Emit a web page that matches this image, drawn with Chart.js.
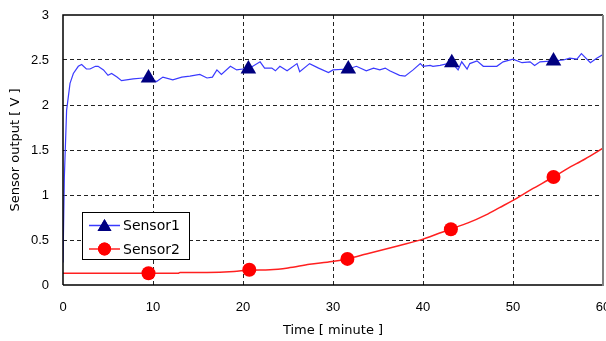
<!DOCTYPE html>
<html>
<head>
<meta charset="utf-8">
<script src="https://cdn.jsdelivr.net/npm/chart.js@4/dist/chart.umd.min.js"></script>
<style>
  html, body { margin: 0; padding: 0; background: #fff; }
  #wrap { width: 606px; height: 341px; }
</style>
</head>
<body>
<div id="wrap"><canvas id="c" width="606" height="341"></canvas></div>
<script>
// ---- data ----
const seriesNames = ["Sensor1", "Sensor2"];
const xTickLabels = [0, 10, 20, 30, 40, 50, 60];
const yTickLabels = [0, 0.5, 1, 1.5, 2, 2.5, 3];

const sensor1Time = [0, 0.15, 0.4, 0.78, 1.15, 1.7, 2.07, 2.6, 3.0, 3.6, 3.9, 4.5, 5.0, 5.4, 6.0, 6.5, 7.8, 8.9, 9.5, 10.4, 11.1, 12.2, 13.2, 14.1, 15.2, 16.0, 16.6, 17.1, 17.6, 18.6, 19.3, 20.0, 20.6, 21.9, 22.4, 23.2, 23.6, 24.1, 24.9, 26.0, 26.3, 27.4, 28.4, 29.5, 30.0, 31.7, 32.6, 33.7, 34.5, 35.2, 35.8, 36.3, 37.4, 38.0, 38.9, 39.7, 40.0, 40.8, 41.1, 41.9, 43.2, 43.9, 44.3, 44.9, 45.2, 46.0, 46.7, 48.2, 48.9, 50.0, 51.0, 51.9, 52.4, 53.0, 54.5, 55.6, 56.3, 57.1, 57.6, 58.6, 59.3, 60.0];
const sensor1Value = [0.25, 1.2, 1.94, 2.24, 2.35, 2.43, 2.45, 2.40, 2.40, 2.43, 2.43, 2.39, 2.33, 2.35, 2.31, 2.27, 2.29, 2.30, 2.30, 2.26, 2.31, 2.28, 2.31, 2.32, 2.34, 2.30, 2.31, 2.39, 2.34, 2.43, 2.39, 2.40, 2.40, 2.48, 2.41, 2.41, 2.38, 2.43, 2.38, 2.46, 2.37, 2.46, 2.41, 2.36, 2.39, 2.40, 2.43, 2.38, 2.41, 2.39, 2.41, 2.38, 2.33, 2.32, 2.39, 2.46, 2.43, 2.44, 2.43, 2.44, 2.47, 2.39, 2.48, 2.40, 2.46, 2.49, 2.43, 2.43, 2.48, 2.51, 2.47, 2.48, 2.44, 2.48, 2.49, 2.50, 2.52, 2.51, 2.57, 2.47, 2.52, 2.56];

const sensor2Time = [0, 5, 10, 12.8, 13, 16, 19, 20.7, 23, 25, 27.4, 29.9, 31.5, 33.7, 37.4, 40, 43, 45, 47, 48.5, 50, 52, 54.5, 56, 58, 60];
const sensor2Value = [0.13, 0.13, 0.13, 0.13, 0.14, 0.14, 0.15, 0.165, 0.17, 0.19, 0.23, 0.26, 0.29, 0.345, 0.44, 0.51, 0.62, 0.69, 0.78, 0.86, 0.94, 1.06, 1.20, 1.29, 1.40, 1.52];

const sensor1MarkerTime = [9.5, 20.6, 31.7, 43.2, 54.5];
const sensor1MarkerValue = [2.30, 2.40, 2.40, 2.47, 2.49];
const sensor2MarkerTime = [9.5, 20.7, 31.6, 43.1, 54.5];
const sensor2MarkerValue = [0.13, 0.17, 0.29, 0.62, 1.20];

// ---- build library structures ----
const pts = (xs, ys) => xs.map((x, i) => ({ x: x, y: ys[i] }));

const C1_LINE = "#3a3aff", C1_MARK = "#000080";
const C2_LINE = "#ff2020", C2_MARK = "#ff0000";
const FONT = "'DejaVu Sans', sans-serif";
const TICKFONT = "'Liberation Sans', Arial, sans-serif";

const frameAndLegend = {
  id: "frameAndLegend",
  afterDatasetsDraw(chart) {
    const { ctx, chartArea: a } = chart;
    ctx.save();
    ctx.strokeStyle = "#000";
    ctx.lineWidth = 1.5;
    ctx.beginPath();
    ctx.moveTo(a.left, a.bottom); ctx.lineTo(a.left, a.top); ctx.lineTo(a.right, a.top);
    ctx.moveTo(a.left, a.bottom); ctx.lineTo(a.right, a.bottom);
    ctx.stroke();
    ctx.strokeStyle = "#808080";
    ctx.lineWidth = 2;
    ctx.beginPath();
    ctx.moveTo(a.right, a.top); ctx.lineTo(a.right, a.bottom + 1);
    ctx.stroke();

    const bx = 82.5, by = 212.5, bw = 107, bh = 47;
    ctx.fillStyle = "#fff";
    ctx.fillRect(bx, by, bw, bh);
    ctx.strokeStyle = "#000";
    ctx.lineWidth = 1;
    ctx.strokeRect(bx, by, bw, bh);
    const rows = [
      { name: seriesNames[0], line: C1_LINE, mark: C1_MARK, style: "triangle", r: 8, y: 225.5 },
      { name: seriesNames[1], line: C2_LINE, mark: C2_MARK, style: "circle", r: 6.5, y: 249 }
    ];
    rows.forEach(row => {
      ctx.strokeStyle = row.line;
      ctx.lineWidth = 1.5;
      ctx.beginPath(); ctx.moveTo(89, row.y); ctx.lineTo(120, row.y); ctx.stroke();
      ctx.fillStyle = row.mark;
      Chart.helpers.drawPoint(ctx, { pointStyle: row.style, radius: row.r, borderWidth: 0, rotation: 0 }, 104.5, row.y + (row.style === "triangle" ? 1.5 : 0));
      ctx.fill();
      ctx.fillStyle = "#000";
      ctx.font = "14px " + FONT;
      ctx.textBaseline = "middle";
      ctx.textAlign = "left";
      ctx.fillText(row.name, 123, row.y + 1);
    });
    ctx.restore();
  }
};

const edgeTransparent = (min, max) => (c) => {
  const v = c.tick ? c.tick.value : null;
  return (v === min || v === max) ? "rgba(0,0,0,0)" : "#222";
};

new Chart(document.getElementById("c"), {
  type: "scatter",
  data: {
    datasets: [
      { label: seriesNames[0] + " markers", data: pts(sensor1MarkerTime, sensor1MarkerValue), showLine: false,
        pointStyle: "triangle", pointRadius: 9, pointHoverRadius: 9, backgroundColor: C1_MARK, borderColor: C1_MARK, borderWidth: 0, order: 0 },
      { label: seriesNames[1] + " markers", data: pts(sensor2MarkerTime, sensor2MarkerValue), showLine: false,
        pointStyle: "circle", pointRadius: 7, pointHoverRadius: 7, backgroundColor: C2_MARK, borderColor: C2_MARK, borderWidth: 0, order: 0 },
      { label: seriesNames[0], data: pts(sensor1Time, sensor1Value), showLine: true, pointRadius: 0,
        borderColor: C1_LINE, borderWidth: 1.2, tension: 0, order: 1 },
      { label: seriesNames[1], data: pts(sensor2Time, sensor2Value), showLine: true, pointRadius: 0,
        borderColor: C2_LINE, borderWidth: 1.5, tension: 0.3, cubicInterpolationMode: "monotone", order: 1 }
    ]
  },
  options: {
    responsive: false,
    animation: false,
    events: [],
    layout: { autoPadding: false, padding: { left: 0, right: 3, top: 15, bottom: 0 } },
    plugins: { legend: { display: false }, tooltip: { enabled: false } },
    scales: {
      x: {
        type: "linear", min: xTickLabels[0], max: xTickLabels[xTickLabels.length - 1],
        afterBuildTicks: (s) => { s.ticks = xTickLabels.map(v => ({ value: v })); },
        afterFit: (s) => { s.height = 56; s.paddingLeft = 0; s.paddingRight = 0; },
        ticks: { color: "#000", padding: 15, font: { family: TICKFONT, size: 13 }, maxRotation: 0, callback: (v) => String(v) },
        grid: { color: edgeTransparent(0, 60), lineWidth: 1, drawTicks: false },
        border: { display: false, dash: [4, 3] },
        title: { display: true, text: "Time [ minute ]", color: "#000", font: { family: FONT, size: 13 }, padding: { top: 0, bottom: 3 } }
      },
      y: {
        type: "linear", min: yTickLabels[0], max: yTickLabels[yTickLabels.length - 1],
        afterBuildTicks: (s) => { s.ticks = yTickLabels.map(v => ({ value: v })); },
        afterFit: (s) => { s.width = 63; s.paddingTop = 0; s.paddingBottom = 0; },
        ticks: { color: "#000", padding: 14, font: { family: TICKFONT, size: 13 }, callback: (v) => String(v) },
        grid: { color: edgeTransparent(0, 3), lineWidth: 1, drawTicks: false },
        border: { display: false, dash: [4, 3] },
        title: { display: true, text: "Sensor output [ V ]", color: "#000", font: { family: FONT, size: 13 }, padding: { top: 8, bottom: 0 } }
      }
    }
  },
  plugins: [frameAndLegend]
});
</script>
</body>
</html>
